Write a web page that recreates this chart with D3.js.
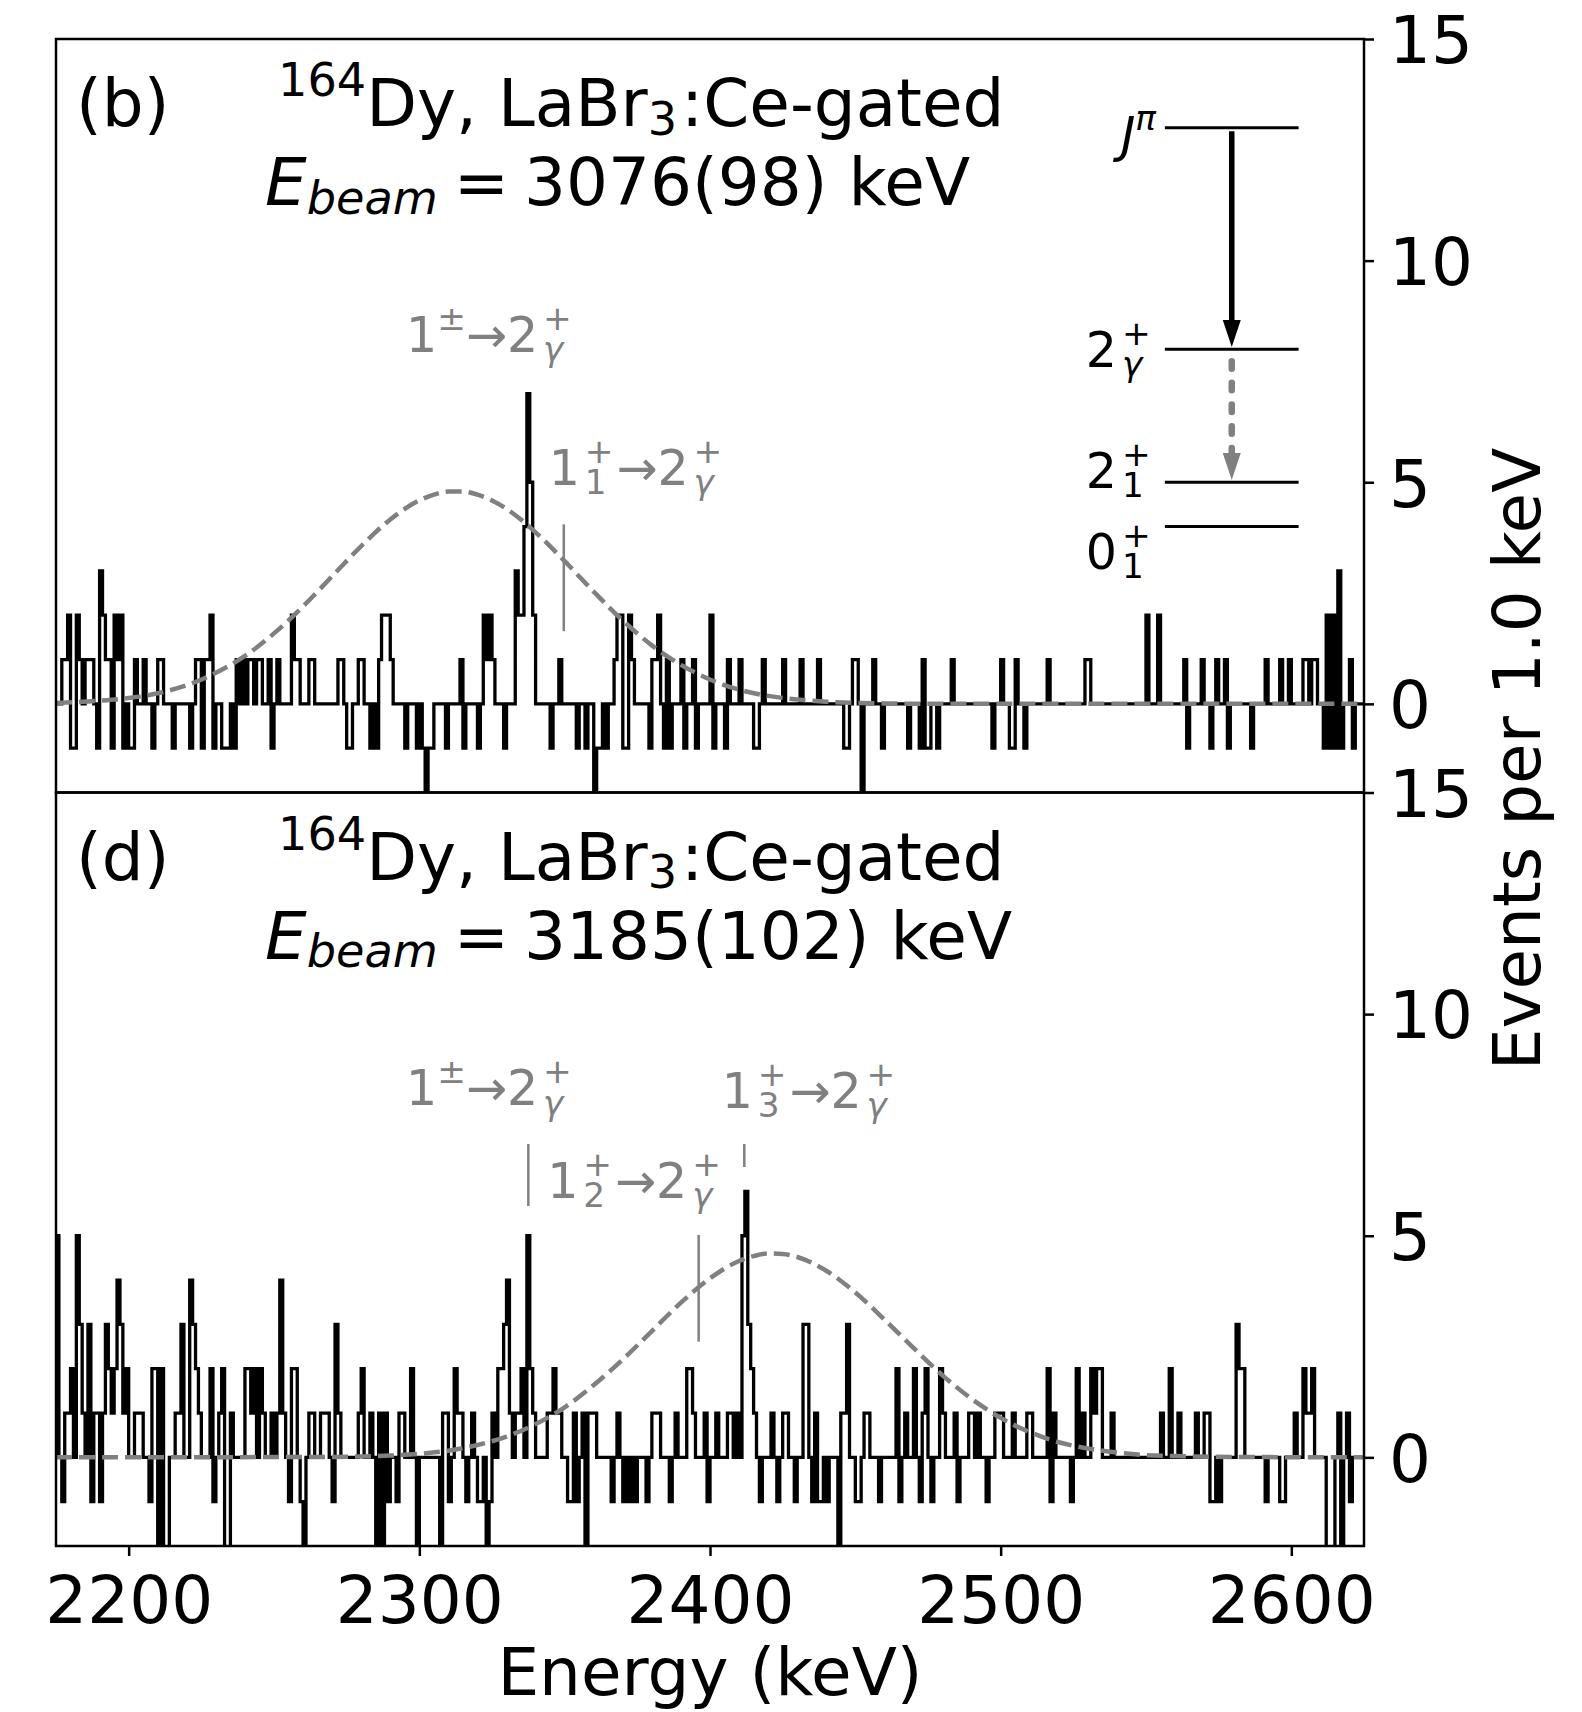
<!DOCTYPE html>
<html>
<head>
<meta charset="utf-8">
<script src="https://cdn.jsdelivr.net/npm/d3@7"></script>
<style>
  body { margin: 0; background: #fff; }
  svg { display: block; font-family: 'DejaVu Sans', sans-serif; }
</style>
</head>
<body>
<div id="chart"></div>
<script>
// ---- data ----
const BIN_LO = 2175;
const BIN_HI = 2625; // 1.0 keV bins
const xTicks = [2200, 2300, 2400, 2500, 2600];
const yTicks = [0, 5, 10, 15];
const yDomain = [-2, 15];

// non-zero bins [keV, events], panel (b)
const countsB = [
  [2177,1],[2178,1],[2179,2],[2180,-1],[2181,-1],[2182,2],[2183,1],[2185,1],[2186,1],[2187,1],
  [2189,-1],[2190,3],[2191,2],[2192,1],[2193,1],[2194,-1],[2195,2],[2196,1],[2197,2],[2198,-1],
  [2200,-1],[2201,-1],[2202,1],[2205,1],[2208,-1],[2210,1],[2211,1],[2215,-1],[2221,-1],[2223,1],
  [2224,1],[2225,-1],[2226,1],[2227,1],[2228,2],[2229,-1],[2232,-1],[2233,-1],[2234,-1],[2236,-1],
  [2237,1],[2239,1],[2241,1],[2242,1],[2244,1],[2245,1],[2248,1],[2249,-1],[2251,1],[2256,2],
  [2257,1],[2258,1],[2262,1],[2263,1],[2272,1],[2273,1],[2275,-1],[2276,-1],[2279,1],[2280,1],
  [2283,-1],[2285,-1],[2286,1],[2287,2],[2288,2],[2289,2],[2290,1],[2295,-1],[2299,-1],[2301,-1],
  [2302,-3],[2303,-1],[2304,-1],[2309,-1],[2314,1],[2315,-1],[2320,-1],[2322,2],[2323,1],[2324,2],
  [2325,1],[2329,-1],[2333,3],[2334,2],[2335,2],[2336,4],[2337,7],[2338,5],[2339,2],[2345,-1],
  [2348,1],[2354,-1],[2357,-1],[2360,-3],[2361,-1],[2362,-1],[2364,-1],[2367,1],[2368,2],[2369,2],
  [2370,-1],[2371,-1],[2372,2],[2373,1],[2379,-1],[2380,1],[2381,1],[2382,2],[2384,-1],[2385,1],
  [2386,-1],[2390,1],[2391,-1],[2394,1],[2395,-1],[2400,2],[2401,-1],[2405,-1],[2406,1],[2410,1],
  [2415,-1],[2416,-1],[2418,1],[2425,1],[2431,1],[2437,1],[2446,-1],[2447,-1],[2449,1],[2450,1],
  [2452,-3],[2456,1],[2459,-1],[2468,-1],[2472,-1],[2473,1],[2474,-1],[2475,-1],[2478,-1],[2483,1],
  [2497,-1],[2500,1],[2503,-1],[2504,-1],[2505,1],[2508,-1],[2516,1],[2529,1],[2530,1],[2550,2],
  [2554,2],[2563,1],[2564,-1],[2569,1],[2572,-1],[2574,1],[2577,1],[2578,-1],[2586,-1],[2591,1],
  [2596,1],[2599,1],[2604,1],[2605,1],[2607,1],[2608,1],[2611,-1],[2612,2],[2613,-1],[2614,2],
  [2615,-1],[2616,3],[2617,-1],[2620,1],[2621,-1]
];

// non-zero bins [keV, events], panel (d)
const countsD = [
  [2175,5],[2177,-1],[2178,1],[2179,1],[2180,2],[2182,5],[2183,3],[2184,1],[2186,3],[2187,-1],
  [2188,1],[2189,1],[2190,-1],[2191,1],[2192,3],[2193,2],[2194,1],[2195,2],[2196,4],[2197,3],
  [2198,1],[2199,2],[2202,1],[2203,1],[2204,1],[2207,-1],[2208,2],[2209,2],[2210,-3],[2211,2],
  [2212,-3],[2213,-3],[2216,1],[2217,1],[2218,3],[2221,4],[2222,3],[2223,2],[2224,1],[2228,2],
  [2229,-1],[2231,1],[2232,2],[2233,-3],[2234,-3],[2235,1],[2240,2],[2241,2],[2242,1],[2243,2],
  [2245,2],[2246,1],[2249,1],[2251,1],[2252,4],[2253,1],[2255,-1],[2256,2],[2257,2],[2259,-1],
  [2260,-3],[2262,1],[2263,1],[2266,1],[2267,1],[2268,1],[2270,-1],[2271,3],[2272,1],[2279,1],
  [2280,2],[2283,1],[2285,-3],[2286,1],[2287,-3],[2288,1],[2289,-1],[2292,-1],[2293,1],[2294,1],
  [2297,2],[2299,-3],[2307,-3],[2308,1],[2309,1],[2310,-1],[2312,2],[2313,1],[2314,1],[2316,-1],
  [2318,1],[2320,-1],[2321,-1],[2323,-3],[2324,-1],[2325,1],[2327,2],[2328,2],[2329,3],[2330,4],
  [2331,1],[2333,1],[2334,1],[2335,2],[2337,5],[2338,2],[2339,1],[2344,1],[2345,1],[2346,2],
  [2347,1],[2348,1],[2351,-1],[2352,-1],[2353,1],[2354,-1],[2356,1],[2357,-3],[2358,1],[2359,1],
  [2360,1],[2366,-1],[2368,1],[2370,-1],[2372,-1],[2374,-1],[2378,-1],[2380,1],[2381,1],[2382,1],
  [2386,-1],[2388,1],[2392,2],[2393,2],[2394,1],[2398,1],[2399,-1],[2402,1],[2406,1],[2407,1],
  [2409,1],[2411,5],[2412,6],[2413,3],[2414,2],[2415,1],[2417,-1],[2421,1],[2423,-1],[2425,1],
  [2426,1],[2429,-1],[2432,3],[2433,3],[2435,-1],[2436,1],[2437,-1],[2438,-1],[2440,-1],[2444,-3],
  [2445,1],[2446,1],[2447,3],[2450,-1],[2451,-1],[2453,1],[2454,1],[2458,-1],[2464,2],[2465,-1],
  [2467,1],[2470,2],[2472,-1],[2473,1],[2474,2],[2476,-1],[2479,2],[2480,1],[2484,1],[2485,-1],
  [2489,1],[2490,1],[2492,1],[2495,-1],[2498,1],[2499,1],[2500,1],[2504,1],[2509,1],[2510,1],
  [2516,2],[2517,-1],[2518,1],[2524,-1],[2526,2],[2528,1],[2531,2],[2532,1],[2533,2],[2534,2],
  [2538,1],[2555,1],[2558,2],[2561,1],[2567,1],[2570,1],[2571,1],[2572,-1],[2573,-1],[2575,-1],
  [2581,3],[2582,2],[2583,2],[2591,-1],[2596,-1],[2597,-1],[2601,1],[2604,2],[2605,1],[2606,1],
  [2607,2],[2612,-3],[2613,-3],[2614,-3],[2616,1],[2617,-3],[2619,1],[2620,-1]
];

// dashed fit curves, sampled from the figure
const fitBE = [2175, 2190, 2200, 2210, 2220, 2230, 2240, 2250, 2260, 2270, 2280, 2290, 2300, 2305,
  2310, 2315, 2320, 2325, 2330, 2340, 2350, 2360, 2370, 2380, 2390, 2400, 2410, 2420, 2430, 2440,
  2460, 2480, 2625];
const fitBV = [0.02, 0.07, 0.13, 0.24, 0.42, 0.70, 1.08, 1.59, 2.20, 2.88, 3.56, 4.16, 4.59, 4.72,
  4.79, 4.79, 4.72, 4.59, 4.40, 3.87, 3.22, 2.53, 1.88, 1.32, 0.88, 0.55, 0.32, 0.18, 0.10, 0.05,
  0.01, 0, 0];
const fitDE = [2175, 2270, 2280, 2290, 2300, 2310, 2320, 2330, 2340, 2350, 2360, 2370, 2380, 2390,
  2400, 2410, 2415, 2420, 2425, 2430, 2440, 2450, 2460, 2470, 2480, 2490, 2500, 2510, 2520, 2530,
  2540, 2550, 2560, 2580, 2625];
const fitDV = [0, 0.01, 0.02, 0.04, 0.08, 0.15, 0.28, 0.47, 0.75, 1.13, 1.63, 2.21, 2.85, 3.49,
  4.04, 4.43, 4.54, 4.60, 4.59, 4.52, 4.21, 3.72, 3.11, 2.47, 1.85, 1.32, 0.89, 0.57, 0.34, 0.20,
  0.11, 0.05, 0.03, 0.01, 0];

// gray transition markers [keV, from, to]
const markersB = [[2349.7, 1.64, 4.05]];
const markersD = [[2337.5, 5.67, 7.07], [2396.1, 2.61, 5.02], [2411.8, 6.55, 7.07]];

// gray transition labels: left keV, baseline value, parts
const labelsB = [
  { e: 2295.4, v: 7.94, parts: [{ t: '1' }, { sup: '±' }, { t: '→2' }, { sup: '+', sub: 'γ', subIt: true }] },
  { e: 2344.5, v: 4.94, parts: [{ t: '1' }, { sup: '+', sub: '1' }, { t: '→2' }, { sup: '+', sub: 'γ', subIt: true }] },
];
const labelsD = [
  { e: 2295.4, v: 7.94, parts: [{ t: '1' }, { sup: '±' }, { t: '→2' }, { sup: '+', sub: 'γ', subIt: true }] },
  { e: 2344.0, v: 5.85, parts: [{ t: '1' }, { sup: '+', sub: '2' }, { t: '→2' }, { sup: '+', sub: 'γ', subIt: true }] },
  { e: 2404.0, v: 7.88, parts: [{ t: '1' }, { sup: '+', sub: '3' }, { t: '→2' }, { sup: '+', sub: 'γ', subIt: true }] },
];

// level scheme in panel (b)
const levelE = [2556.5, 2602.5];
const levelV = [13, 8, 5, 4];
const levelLabelV = [12.45, 7.6, 4.87, 3.04];
const levelLabelE = [2557.0, 2551.6, 2551.6, 2551.6];
const levelLabelParts = [
  [{ t: 'J', it: true }, { sup: 'π', it: true }],
  [{ t: '2' }, { sup: '+', sub: 'γ', subIt: true }],
  [{ t: '2' }, { sup: '+', sub: '1' }],
  [{ t: '0' }, { sup: '+', sub: '1' }],
];
const arrowE = 2579.5;
const arrowMain = [12.92, 8.05];
const arrowGray = [7.8, 5.05];

const titles = [
  { tag: '(b)', beam: '3076(98) keV' },
  { tag: '(d)', beam: '3185(102) keV' },
];

// ---- layout ----
const W = 1582;
const H = 1712;
const plotL = 56;
const plotR = 1364;
const panelTops = [39, 792.5];
const panelH = 753.5;
const FS = 66;
const FS_SMALL = 49;
const GRAY = '#808080';

const svg = d3.select('#chart').append('svg')
  .attr('width', W)
  .attr('height', H)
  .attr('viewBox', `0 0 ${W} ${H}`);

const x = d3.scaleLinear().domain([BIN_LO, BIN_HI]).range([plotL, plotR]);

function stepPoints(counts) {
  const m = new Map(counts);
  const pts = [[BIN_LO, 0]];
  d3.range(BIN_LO, BIN_HI).forEach((e) => {
    const v = m.get(e) || 0;
    pts.push([e, v], [e + 1, v]);
  });
  pts.push([BIN_HI, 0]);
  return pts;
}

// text with mathtext-like super/subscripts
function mathText(parent, px, py, size, fill, parts, anchor) {
  const t = parent.append('text')
    .attr('x', px).attr('y', py)
    .attr('font-size', size)
    .attr('fill', fill)
    .style('white-space', 'pre');
  const small = size * 0.7;
  const up = -0.45 * size;
  let shift = 0;
  let carry = 0;
  parts.forEach((p) => {
    if (p.t != null) {
      t.append('tspan').attr('dy', -shift).attr('dx', carry + (p.dx || 0))
        .attr('font-style', p.it ? 'italic' : null).text(p.t);
      shift = 0; carry = 0;
    } else if (p.sup != null && p.sub != null) {
      // stacked scripts get a little extra room, as mathtext does
      const down = 0.19 * size;
      const pad = 0.1 * size;
      const a = t.append('tspan').attr('dy', up - shift).attr('dx', carry + pad)
        .attr('font-size', small).attr('font-style', p.it ? 'italic' : null).text(p.sup);
      const wa = a.node().getComputedTextLength();
      const b = t.append('tspan').attr('dy', down - up).attr('dx', -wa)
        .attr('font-size', small).attr('font-style', p.subIt ? 'italic' : null).text(p.sub);
      const wb = b.node().getComputedTextLength();
      carry = Math.max(0, wa - wb) + pad * 0.6;
      shift = down;
    } else if (p.sup != null) {
      t.append('tspan').attr('dy', up - shift).attr('dx', carry)
        .attr('font-size', small).attr('font-style', p.it ? 'italic' : null).text(p.sup);
      shift = up; carry = 0;
    } else if (p.sub != null) {
      const down = 0.13 * size;
      t.append('tspan').attr('dy', down - shift).attr('dx', carry)
        .attr('font-size', small).attr('font-style', p.it ? 'italic' : null).text(p.sub);
      shift = down; carry = p.padAfter || 0;
    }
  });
  if (anchor === 'end') {
    const w = t.node().getBBox().width;
    t.attr('x', px - w);
  }
  return t;
}

const defs = svg.append('defs');

const panels = [
  { counts: countsB, fitE: fitBE, fitV: fitBV, markers: markersB, labels: labelsB, scheme: true },
  { counts: countsD, fitE: fitDE, fitV: fitDV, markers: markersD, labels: labelsD, scheme: false },
];

panels.forEach((p, i) => {
  const top = panelTops[i];
  const y = d3.scaleLinear().domain(yDomain).range([top + panelH, top]);
  const g = svg.append('g').attr('class', `panel panel-${i}`);

  defs.append('clipPath').attr('id', `clip-${i}`)
    .append('rect')
    .attr('x', plotL).attr('y', top)
    .attr('width', plotR - plotL).attr('height', panelH);

  const plot = g.append('g').attr('clip-path', `url(#clip-${i})`);

  // histogram
  const stepLine = d3.line().x((d) => x(d[0])).y((d) => y(d[1]));
  plot.append('path')
    .datum(stepPoints(p.counts))
    .attr('d', stepLine)
    .attr('fill', 'none')
    .attr('stroke', '#000')
    .attr('stroke-width', 3.3)
    .attr('stroke-linejoin', 'miter');

  // fit curve
  const fitLine = d3.line()
    .x((d) => x(d[0])).y((d) => y(d[1]))
    .curve(d3.curveMonotoneX);
  plot.append('path')
    .datum(p.fitE.map((e, k) => [e, p.fitV[k]]))
    .attr('d', fitLine)
    .attr('fill', 'none')
    .attr('stroke', GRAY)
    .attr('stroke-width', 4.5)
    .attr('stroke-dasharray', '16 7');

  // transition markers
  plot.selectAll('.marker')
    .data(p.markers)
    .join('line')
    .attr('class', 'marker')
    .attr('x1', (d) => x(d[0])).attr('x2', (d) => x(d[0]))
    .attr('y1', (d) => y(d[1])).attr('y2', (d) => y(d[2]))
    .attr('stroke', GRAY)
    .attr('stroke-width', 2.5);

  p.labels.forEach((l) => {
    mathText(g, x(l.e), y(l.v), FS_SMALL, GRAY, l.parts);
  });

  // level scheme
  if (p.scheme) {
    g.selectAll('.level')
      .data(levelV)
      .join('line')
      .attr('class', 'level')
      .attr('x1', x(levelE[0])).attr('x2', x(levelE[1]))
      .attr('y1', (d) => y(d)).attr('y2', (d) => y(d))
      .attr('stroke', '#000')
      .attr('stroke-width', 3);

    levelLabelParts.forEach((parts, k) => {
      mathText(g, x(levelLabelE[k]), y(levelLabelV[k]), FS_SMALL, '#000', parts, 'end');
    });

    const ax = x(arrowE);
    const headL = 27;
    const headW = 9;
    // black arrow
    g.append('line')
      .attr('x1', ax).attr('x2', ax)
      .attr('y1', y(arrowMain[0])).attr('y2', y(arrowMain[1]) - headL + 2)
      .attr('stroke', '#000').attr('stroke-width', 5.5);
    g.append('path')
      .attr('d', `M${ax},${y(arrowMain[1])} L${ax - headW},${y(arrowMain[1]) - headL} L${ax + headW},${y(arrowMain[1]) - headL} Z`)
      .attr('fill', '#000');
    // gray dotted arrow
    g.append('line')
      .attr('x1', ax).attr('x2', ax)
      .attr('y1', y(arrowGray[0]) + 3).attr('y2', y(arrowGray[1]) - headL)
      .attr('stroke', GRAY).attr('stroke-width', 6.5)
      .attr('stroke-linecap', 'round')
      .attr('stroke-dasharray', '7.5 14.2');
    g.append('path')
      .attr('d', `M${ax},${y(arrowGray[1])} L${ax - headW},${y(arrowGray[1]) - headL} L${ax + headW},${y(arrowGray[1]) - headL} Z`)
      .attr('fill', GRAY);
  }

  // titles
  const tt = titles[i];
  g.append('text')
    .attr('x', 76).attr('y', top + 87)
    .attr('font-size', FS)
    .text(tt.tag);
  mathText(g, 278, top + 87, FS, '#000',
    [{ sup: '164' }, { t: 'Dy, LaBr' }, { sub: '3', padAfter: 4 }, { t: ':Ce-gated' }]);
  mathText(g, 265, top + 166, FS, '#000',
    [{ t: 'E', it: true }, { sub: 'beam', it: true }, { t: '=', dx: 16 }, { t: tt.beam, dx: 15 }]);

  // frame
  g.append('rect')
    .attr('x', plotL).attr('y', top)
    .attr('width', plotR - plotL).attr('height', panelH)
    .attr('fill', 'none')
    .attr('stroke', '#000')
    .attr('stroke-width', 2.5);

  // right y axis
  const yAxis = g.append('g')
    .attr('transform', `translate(${plotR},0)`)
    .call(d3.axisRight(y).tickValues(yTicks).tickSize(10).tickPadding(15));
  yAxis.select('.domain').remove();
  yAxis.attr('font-size', FS).attr('font-family', 'DejaVu Sans');
  yAxis.selectAll('line').attr('stroke-width', 2.5);
  yAxis.selectAll('text').attr('dy', '0.36em').attr('fill', '#000');
});

// bottom x axis
const xAxis = svg.append('g')
  .attr('transform', `translate(0,${panelTops[1] + panelH})`)
  .call(d3.axisBottom(x).tickValues(xTicks).tickFormat(d3.format('d')).tickSize(10).tickPadding(20));
xAxis.select('.domain').remove();
xAxis.attr('font-size', FS).attr('font-family', 'DejaVu Sans');
xAxis.selectAll('line').attr('stroke-width', 2.5);
xAxis.selectAll('text').attr('fill', '#000');

svg.append('text')
  .attr('x', (plotL + plotR) / 2)
  .attr('y', 1695)
  .attr('text-anchor', 'middle')
  .attr('font-size', FS)
  .text('Energy (keV)');

svg.append('text')
  .attr('transform', 'translate(1540,759) rotate(-90)')
  .attr('text-anchor', 'middle')
  .attr('font-size', FS)
  .text('Events per 1.0 keV');
</script>
</body>
</html>
